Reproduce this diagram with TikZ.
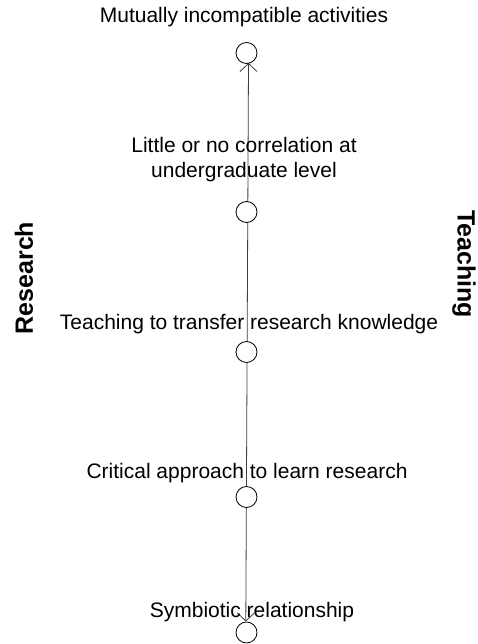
\documentclass[tikz,border=0pt]{standalone}
\usepackage{fontspec}
\setmainfont{Liberation Sans}
\usetikzlibrary{arrows.meta}
\begin{document}
\begin{tikzpicture}[x=1pt,y=-1pt,
  lbl/.style={font=\fontsize{21}{25}\selectfont, inner sep=0pt, align=center},
  side/.style={font=\fontsize{25}{28}\selectfont\bfseries, inner sep=0pt},
  ring/.style={circle, draw=black, fill=white, minimum size=21pt, inner sep=0pt, line width=0.8pt},
  link/.style={draw=black!75, line width=0.8pt, {Straight Barb[length=8pt,width=17pt]}-{Straight Barb[length=8pt,width=17pt]}}]
\useasboundingbox (0,0) rectangle (477,644);
\coordinate (top) at (248.5,63);
\coordinate (bot) at (245.8,621.5);
\draw[link] (top) -- (bot);
\node[ring] (c1) at (246.5,53) {};
\node[ring] (c2) at (246.5,212) {};
\node[ring] (c3) at (246.5,352) {};
\node[ring] (c4) at (246.5,497) {};
\node[ring] (c5) at (246.5,632.5) {};
\node[lbl] (t1) at (244,17) {Mutually incompatible activities};
\node[lbl] (t2) at (244,160) {Little or no correlation at\\undergraduate level};
\node[lbl] (t3) at (249,324) {Teaching to transfer research knowledge};
\node[lbl] (t4) at (247,473) {Critical approach to learn research};
\node[lbl] (t5) at (252,612) {Symbiotic relationship};
\node[side, rotate=90] (r) at (24,278) {Research};
\node[side, rotate=-90] (t) at (464,264) {Teaching};
\end{tikzpicture}
\end{document}
